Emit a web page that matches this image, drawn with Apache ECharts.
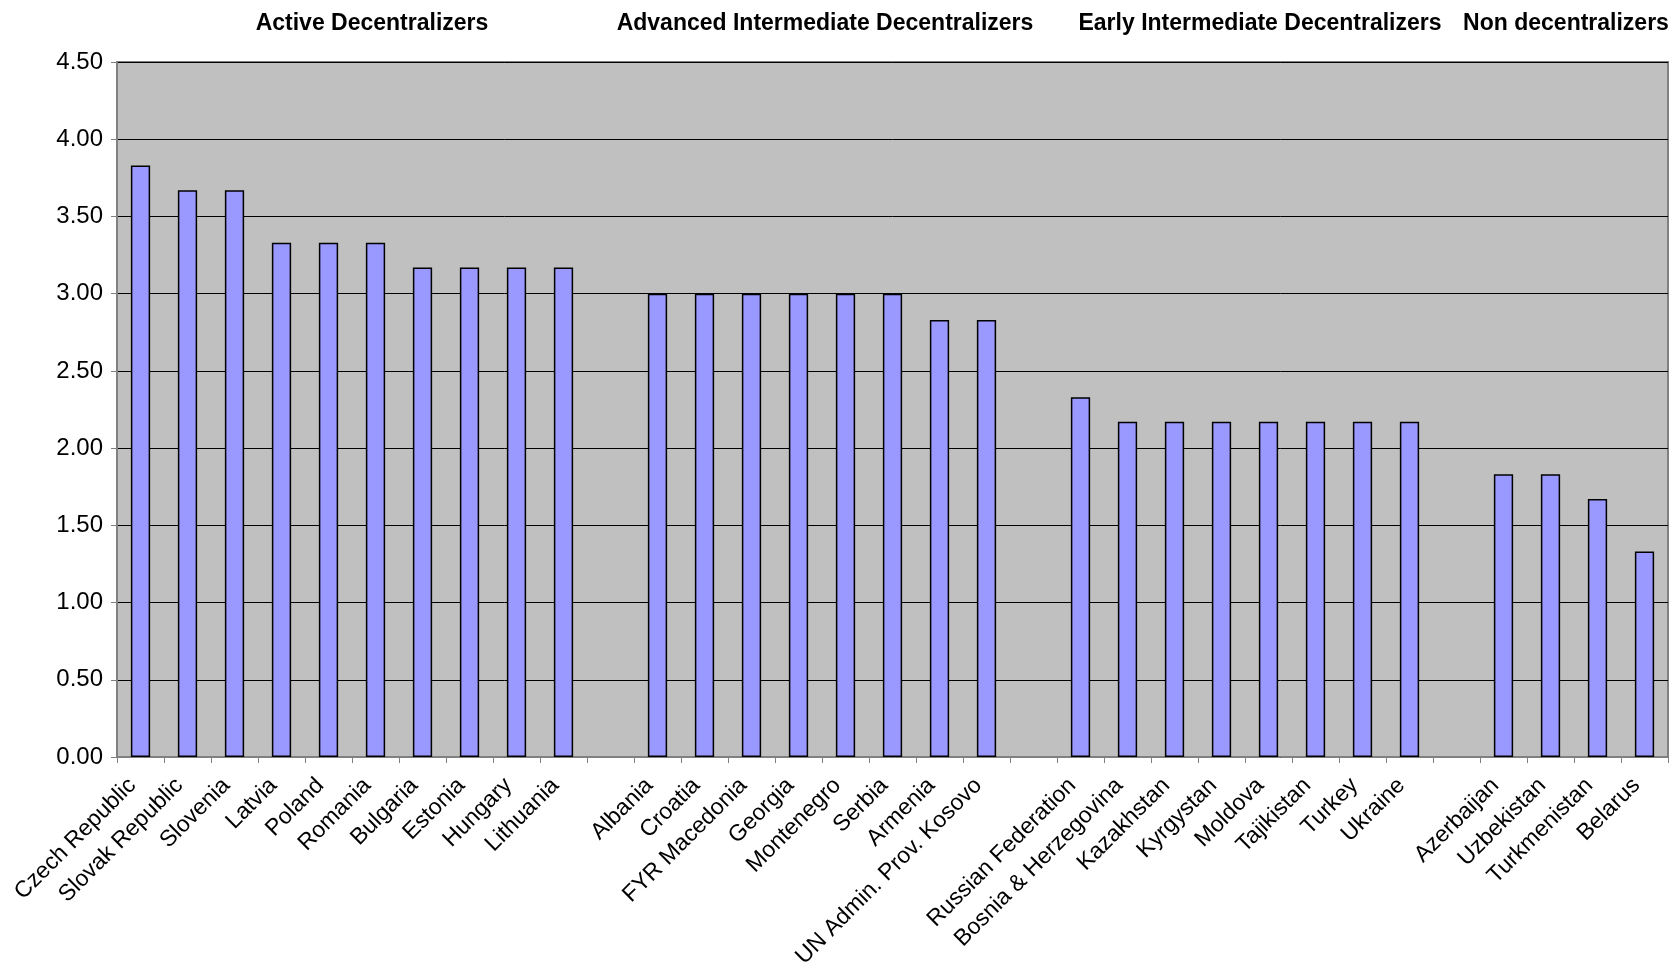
<!DOCTYPE html>
<html>
<head>
<meta charset="utf-8">
<script src="https://cdn.jsdelivr.net/npm/echarts@6/dist/echarts.min.js"></script>
<style>
html,body{margin:0;padding:0;background:#fff;}
#main{width:1673px;height:969px;}
</style>
</head>
<body>
<div id="main"></div>
<script>
const categories = [
  'Czech Republic','Slovak Republic','Slovenia','Latvia','Poland','Romania','Bulgaria','Estonia','Hungary','Lithuania',
  '',
  'Albania','Croatia','FYR Macedonia','Georgia','Montenegro','Serbia','Armenia','UN Admin. Prov. Kosovo',
  ' ',
  'Russian Federation','Bosnia & Herzegovina','Kazakhstan','Kyrgystan','Moldova','Tajikistan','Turkey','Ukraine',
  '  ',
  'Azerbaijan','Uzbekistan','Turkmenistan','Belarus'
];
const values = [
  3.83,3.67,3.67,3.33,3.33,3.33,3.17,3.17,3.17,3.17,
  null,
  3.00,3.00,3.00,3.00,3.00,3.00,2.83,2.83,
  null,
  2.33,2.17,2.17,2.17,2.17,2.17,2.17,2.17,
  null,
  1.83,1.83,1.67,1.33
];
const yTicks = [0,0.5,1,1.5,2,2.5,3,3.5,4,4.5];
const groupLabels = ['Active Decentralizers','Advanced Intermediate Decentralizers','Early Intermediate Decentralizers','Non decentralizers'];
const groupLabelX = [372, 825, 1260, 1566];

const FONT = '"Liberation Sans", Arial, sans-serif';
const chart = echarts.init(document.getElementById('main'));
chart.setOption({
  animation: false,
  backgroundColor: '#ffffff',
  grid: {
    left: 117, right: 5, top: 62, bottom: 212,
    containLabel: false, outerBoundsMode: 'none',
    show: true, backgroundColor: '#C0C0C0', borderColor: '#808080', borderWidth: 2
  },
  xAxis: {
    type: 'category',
    data: categories,
    axisLine: {show: true, lineStyle: {color: '#808080', width: 1}},
    axisTick: {show: true, alignWithLabel: false, interval: 0, length: 6, lineStyle: {color: '#808080'}},
    axisLabel: {interval: 0, rotate: 45, color: '#000', fontFamily: FONT, fontSize: 23, margin: 33, verticalAlign: 'bottom'},
    splitLine: {show: false}
  },
  yAxis: {
    type: 'value',
    min: yTicks[0], max: yTicks[yTicks.length-1], interval: 0.5,
    axisLine: {show: true, lineStyle: {color: '#808080', width: 1}},
    axisTick: {show: true, length: 6, lineStyle: {color: '#808080'}},
    axisLabel: {color: '#000', fontFamily: FONT, fontSize: 24, margin: 14, formatter: v => v.toFixed(2)},
    splitLine: {show: true, lineStyle: {color: '#000', width: 1}}
  },
  graphic: groupLabels.map((t, i) => ({
    type: 'text', x: groupLabelX[i], y: 12,
    style: {text: t, font: 'bold 23px ' + FONT, fill: '#000', textAlign: 'center', textVerticalAlign: 'top'}
  })),
  series: [{
    type: 'bar',
    data: values,
    barWidth: '41%',
    itemStyle: {color: '#9999FF', borderColor: '#000', borderWidth: 1.5}
  }]
});
</script>
</body>
</html>
